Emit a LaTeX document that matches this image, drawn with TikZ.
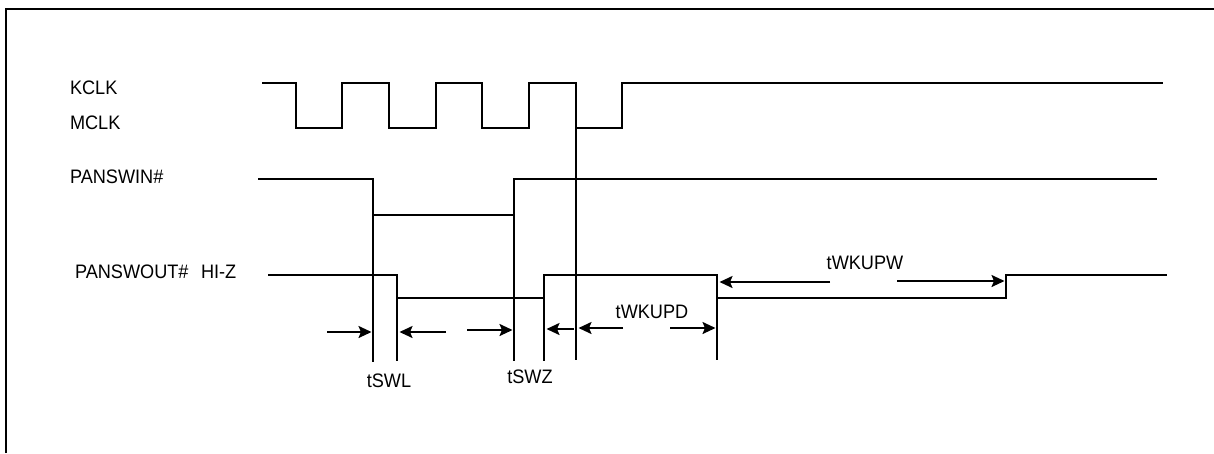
\documentclass[tikz,border=0pt]{standalone}
\usepackage{fontspec}
\setmainfont[FakeStretch=0.93]{Liberation Sans}
\usepackage{tikz}
\usetikzlibrary{arrows.meta}
\definecolor{ink}{HTML}{000000}

\begin{document}
\begin{tikzpicture}[x=1pt,y=-1pt,line width=2pt,
  sig/.style={ink,line join=miter},
  dim/.style={ink,-{Stealth[length=13pt,width=12pt,inset=2.5pt]}},
  lbl/.style={font=\fontsize{19.5}{22}\selectfont,inner sep=0pt,anchor=base west}]
  \useasboundingbox (0,0) rectangle (1214,453);
  % frame, only top and left edges show
  \draw[line width=2.8pt] (6,453) -- (6,9) -- (1214,9);
  % signal names
  \node[lbl] (kclk) at (69,94) {KCLK};
  \node[lbl] (mclk) at (69,129) {MCLK};
  \node[lbl] (swin) at (69,183) {PANSWIN\#};
  \node[lbl] (swout) at (74,278) {PANSWOUT\#};
  \node[lbl] (hiz) at (200,278) {HI-Z};
  % edges that the timings refer to
  \coordinate (inF) at (373,362);
  \coordinate (outF) at (397,361);
  \coordinate (inR) at (514,361);
  \coordinate (outR) at (544,361);
  \coordinate (clkF) at (576,360);
  \coordinate (outF2) at (717,360);
  \coordinate (outR2) at (1006,298);
  % KCLK / MCLK, four low pulses then stays high
  \draw[sig] (262,83) \foreach \f/\r in {296/342,389/436,482/529,576/622}{
      -- (\f,83) -- (\f,128) -- (\r,128) -- (\r,83)} -- (1163,83);
  % PANSWIN#
  \draw[sig] (258,179) -- (inF |- 0,179) -- (inF |- 0,215) -- (inR |- 0,215)
    -- (inR |- 0,179) -- (1157,179);
  % PANSWOUT#
  \draw[sig] (268,275) -- (outF |- 0,275) -- (outF |- 0,298) -- (outR |- 0,298)
    -- (outR |- 0,275) -- (outF2 |- 0,275) -- (outF2 |- 0,298) -- (outR2)
    -- (outR2 |- 0,275) -- (1167,275);
  % reference lines dropped from the edges
  \draw[sig] (inF |- 0,215) -- (inF);
  \draw[sig] (outF |- 0,298) -- (outF);
  \draw[sig] (inR |- 0,215) -- (inR);
  \draw[sig] (outR |- 0,298) -- (outR);
  \draw[sig] (clkF |- 0,128) -- (clkF);
  \draw[sig] (outF2 |- 0,298) -- (outF2);
  % timing arrows
  \draw[dim] (327,332) -- ([xshift=-1.5pt]inF |- 0,332);
  \draw[dim] (446,332) -- ([xshift=2.5pt]outF |- 0,332);
  \draw[dim] (467,330) -- ([xshift=-1.5pt]inR |- 0,330);
  \draw[dim] (574,329) -- ([xshift=2.5pt]outR |- 0,329);
  \draw[dim] (623,328) -- ([xshift=2.5pt]clkF |- 0,328);
  \draw[dim] (670,328) -- ([xshift=-1.5pt]outF2 |- 0,328);
  \draw[dim] (830,282) -- ([xshift=2.5pt]outF2 |- 0,282);
  \draw[dim] (897,281) -- ([xshift=-1.5pt]outR2 |- 0,281);
  % timing names
  \node[lbl,anchor=base] (tswl) at (389,387) {tSWL};
  \node[lbl,anchor=base] (tswz) at (530,383) {tSWZ};
  \node[lbl,anchor=base] (twkupd) at (652,318) {tWKUPD};
  \node[lbl,anchor=base] (twkupw) at (865,269) {tWKUPW};
\end{tikzpicture}
\end{document}
